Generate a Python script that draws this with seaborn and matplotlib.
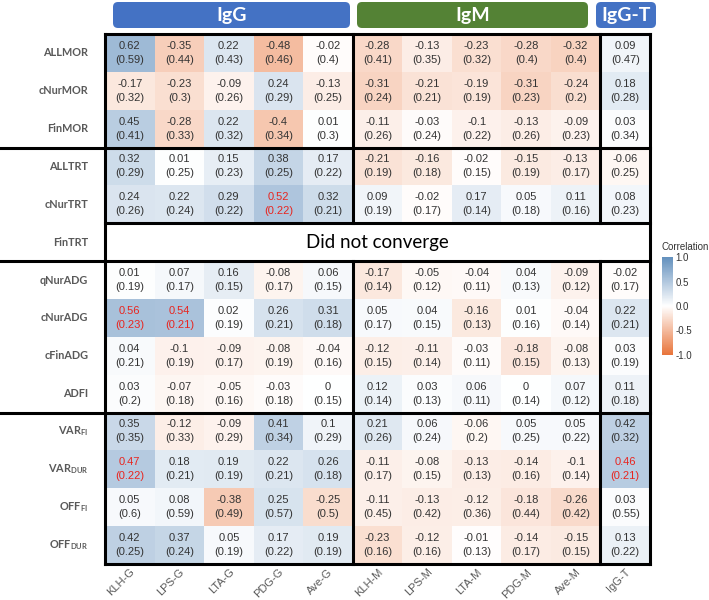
import numpy as np
import pandas as pd
import matplotlib
matplotlib.use("Agg")
import matplotlib.pyplot as plt
import matplotlib.transforms as mtransforms
from matplotlib.colors import LinearSegmentedColormap
from matplotlib.patches import FancyBboxPatch
import seaborn as sns


# ----------------------- Data (genetic correlation and SE)
antigens = ["KLH-G", "LPS-G", "LTA-G", "PDG-G", "Ave-G",
            "KLH-M", "LPS-M", "LTA-M", "PDG-M", "Ave-M", "IgG-T"]

traits = ["ALLMOR", "cNurMOR", "FinMOR", "ALLTRT", "cNurTRT", "FinTRT",
          "qNurADG", "cNurADG", "cFinADG", "ADFI",
          "VAR_FI", "VAR_DUR", "OFF_FI", "OFF_DUR"]

mor_r = [[0.62, -0.35, 0.22, -0.48, -0.02, -0.28, -0.13, -0.23, -0.28, -0.32, 0.09],
         [-0.17, -0.23, -0.09, 0.24, -0.13, -0.31, -0.21, -0.19, -0.31, -0.24, 0.18],
         [0.45, -0.28, 0.22, -0.4, 0.01, -0.11, -0.03, -0.1, -0.13, -0.09, 0.03]]
mor_se = [[0.59, 0.44, 0.43, 0.46, 0.4, 0.41, 0.35, 0.32, 0.4, 0.4, 0.47],
          [0.32, 0.3, 0.26, 0.29, 0.25, 0.24, 0.21, 0.19, 0.23, 0.2, 0.28],
          [0.41, 0.33, 0.32, 0.34, 0.3, 0.26, 0.24, 0.22, 0.26, 0.23, 0.34]]

trt_r = [[0.32, 0.01, 0.15, 0.38, 0.17, -0.21, -0.16, -0.02, -0.15, -0.13, -0.06],
         [0.24, 0.22, 0.29, 0.52, 0.32, 0.09, -0.02, 0.17, 0.05, 0.11, 0.08],
         [None] * 11]
trt_se = [[0.29, 0.25, 0.23, 0.25, 0.22, 0.19, 0.18, 0.15, 0.19, 0.17, 0.25],
          [0.26, 0.24, 0.22, 0.22, 0.21, 0.19, 0.17, 0.14, 0.18, 0.16, 0.23],
          [None] * 11]

adg_r = [[0.01, 0.07, 0.16, -0.08, 0.06, -0.17, -0.05, -0.04, 0.04, -0.09, -0.02],
         [0.56, 0.54, 0.02, 0.26, 0.31, 0.05, 0.04, -0.16, 0.01, -0.04, 0.22],
         [0.04, -0.1, -0.09, -0.08, -0.04, -0.12, -0.11, -0.03, -0.18, -0.08, 0.03],
         [0.03, -0.07, -0.05, -0.03, 0, 0.12, 0.03, 0.06, 0, 0.07, 0.11]]
adg_se = [[0.19, 0.17, 0.15, 0.17, 0.15, 0.14, 0.12, 0.11, 0.13, 0.12, 0.17],
          [0.23, 0.21, 0.19, 0.21, 0.18, 0.17, 0.15, 0.13, 0.16, 0.14, 0.21],
          [0.21, 0.19, 0.17, 0.19, 0.16, 0.15, 0.14, 0.11, 0.15, 0.13, 0.19],
          [0.2, 0.18, 0.16, 0.18, 0.15, 0.14, 0.13, 0.11, 0.14, 0.12, 0.18]]

var_r = [[0.35, -0.12, -0.09, 0.41, 0.1, 0.21, 0.06, -0.06, 0.05, 0.05, 0.42],
         [0.47, 0.18, 0.19, 0.22, 0.26, -0.11, -0.08, -0.13, -0.14, -0.1, 0.46],
         [0.05, 0.08, -0.38, 0.25, -0.25, -0.11, -0.13, -0.12, -0.18, -0.26, 0.03],
         [0.42, 0.37, 0.05, 0.17, 0.19, -0.23, -0.12, -0.01, -0.14, -0.15, 0.13]]
var_se = [[0.35, 0.33, 0.29, 0.34, 0.29, 0.26, 0.24, 0.2, 0.25, 0.22, 0.32],
          [0.22, 0.21, 0.19, 0.21, 0.18, 0.17, 0.15, 0.13, 0.16, 0.14, 0.21],
          [0.6, 0.59, 0.49, 0.57, 0.5, 0.45, 0.42, 0.36, 0.44, 0.42, 0.55],
          [0.25, 0.24, 0.19, 0.22, 0.19, 0.16, 0.16, 0.13, 0.17, 0.15, 0.22]]

# significant estimates, drawn in red
significant = [("cNurTRT", "PDG-G"), ("cNurADG", "KLH-G"), ("cNurADG", "LPS-G"),
               ("VAR_DUR", "KLH-G"), ("VAR_DUR", "IgG-T")]

groups = ["IgG", "IgM", "IgG-T"]


# ----------------------- Build tables
r_df = pd.DataFrame(mor_r + trt_r + adg_r + var_r, index=traits, columns=antigens).astype(float)
se_df = pd.DataFrame(mor_se + trt_se + adg_se + var_se, index=traits, columns=antigens).astype(float)

annot = np.empty(r_df.shape, dtype=object)
for i in range(r_df.shape[0]):
    for j in range(r_df.shape[1]):
        r = r_df.iloc[i, j]
        s = se_df.iloc[i, j]
        annot[i, j] = "" if np.isnan(r) else f"{r:g}\n({s:g})"

row_labels = {
    "VAR_FI": r"VAR$_{\mathbf{FI}}$",
    "VAR_DUR": r"VAR$_{\mathbf{DUR}}$",
    "OFF_FI": r"OFF$_{\mathbf{FI}}$",
    "OFF_DUR": r"OFF$_{\mathbf{DUR}}$",
}


# ----------------------- Plot
sns.set_theme(style="white")
plt.rcParams["font.family"] = ["Liberation Sans", "DejaVu Sans"]
plt.rcParams["axes.unicode_minus"] = False
plt.rcParams["mathtext.fontset"] = "custom"
plt.rcParams["mathtext.bf"] = "Lato:bold"
plt.rcParams["mathtext.rm"] = "Lato"

W, H = 709, 600
fig = plt.figure(figsize=(W / 100, H / 100), dpi=100)
ax = fig.add_axes([105 / W, 36 / H, 545 / W, 530 / H])
cax = fig.add_axes([662 / W, (H - 355) / H, 11 / W, 98 / H])

cmap = LinearSegmentedColormap.from_list("corr", ["#E8743A", "#FFFFFF", "#6390BD"])

sns.heatmap(
    r_df,
    ax=ax,
    cbar_ax=cax,
    cmap=cmap,
    vmin=-1,
    vmax=1,
    annot=annot,
    fmt="",
    annot_kws={"size": 8, "color": "#333333", "linespacing": 1.5},
    linewidths=0,
    cbar_kws={"ticks": [-1, -0.5, 0, 0.5, 1], "format": "%.1f"},
)

# red text for significant cells
for t in ax.texts:
    x, y = t.get_position()
    j, i = int(x), int(y)
    if (traits[i], antigens[j]) in significant:
        t.set_color("#E8251F")

ax.text(5.5, 5.5, "Did not converge", ha="center", va="center",
        fontsize=13.5, family="Lato", color="black")

# tick labels
ax.set_yticks(np.arange(len(traits)) + 0.5)
ax.set_yticklabels([row_labels.get(t, t) for t in traits], rotation=0,
                   fontsize=7.8, fontweight="bold", color="#595959", family="Lato")
ax.set_xticks(np.arange(len(antigens)) + 0.5)
ax.set_xticklabels(antigens, rotation=45, ha="right", rotation_mode="anchor",
                   fontsize=8, color="#595959")
ax.tick_params(axis="y", length=0, pad=12)
ax.tick_params(axis="x", length=0, pad=2)
ax.set_xlabel("")
ax.set_ylabel("")

# borders
lw = 2.2
line_kw = dict(color="black", lw=lw, clip_on=False, solid_capstyle="projecting")
full = mtransforms.blended_transform_factory(fig.transFigure, ax.transData)
n_rows, n_cols = r_df.shape

for y in [0, 5, 14]:
    ax.plot([0, n_cols], [y, y], **line_kw)
for y in [3, 6, 10]:
    ax.plot([0, 650 / W], [y, y], transform=full, **line_kw)
for x in [0, n_cols]:
    ax.plot([x, x], [0, n_rows], **line_kw)
for x in [5, 10]:
    ax.plot([x, x], [0, 5], **line_kw)
    ax.plot([x, x], [6, n_rows], **line_kw)

# group header boxes
headers = [(113, 350, "#4472C4"), (357, 588, "#548235"), (596, 656, "#4472C4")]
for (x0, x1, col), name in zip(headers, groups):
    box = FancyBboxPatch(
        (x0 / 100, (H - 28) / 100), (x1 - x0) / 100, 0.26,
        boxstyle="round,pad=0,rounding_size=0.05",
        transform=fig.dpi_scale_trans, facecolor=col, edgecolor="none",
    )
    fig.add_artist(box)
    fig.text((x0 + x1) / 2 / W, (H - 15) / H, name, ha="center", va="center",
             color="white", fontsize=14, fontweight="bold", family="Lato")

# colorbar
cbar = ax.collections[0].colorbar
cbar.outline.set_visible(False)
cbar.ax.tick_params(length=0, labelsize=7, colors="#333333", pad=2)
fig.text(661 / W, (H - 247) / H, "Correlation", fontsize=7, color="#333333",
         ha="left", va="center")

plt.savefig("out.png", dpi=100)
